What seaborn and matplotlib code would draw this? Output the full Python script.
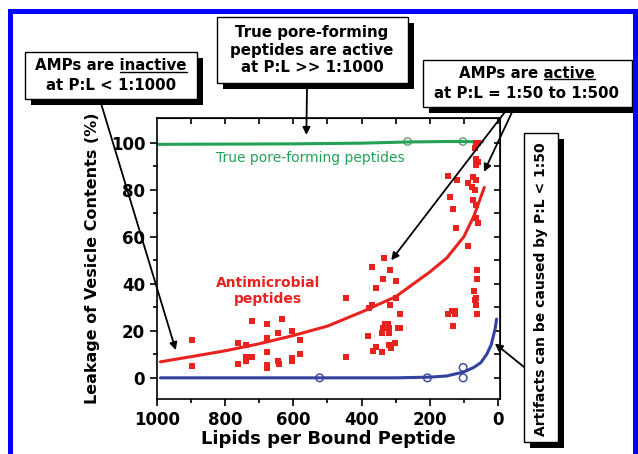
import matplotlib
matplotlib.use("Agg")
import matplotlib.pyplot as plt
from matplotlib.patches import Rectangle
from matplotlib.lines import Line2D
import seaborn as sns
import pandas as pd

W, H = 638, 454

# antimicrobial peptides: lipids per bound peptide vs leakage (%)
amp_lipids = [896, 896, 762, 762, 739, 739, 739, 720, 720, 676, 677, 677, 676, 676,
              644, 634, 641, 645, 604, 582, 582, 604, 604,
              445, 445, 369, 334, 318, 337, 300, 357, 300, 369, 378, 318, 288, 332, 323,
              337, 320, 293, 286, 339, 320, 380, 303, 320, 315, 357, 366, 339,
              146, 121, 141, 131, 124, 136, 126, 146, 126, 131, 87,
              58, 68, 63, 63, 58, 63, 87, 72, 63, 77, 68, 72, 63, 63, 58,
              61, 61, 70, 63, 68, 63, 60]
amp_leak = [16, 5, 15, 6, 14, 9, 7, 24, 9, 23, 17, 11, 5.5, 4,
            19, 25, 6, 7, 20, 16, 10, 8.5, 7,
            34, 9, 47, 51, 46, 42, 41, 38, 34, 31, 29.5, 31, 27, 23, 23,
            21, 21, 21, 21, 19, 19, 18, 15, 14, 12.5, 13, 11.5, 11,
            86, 84, 77, 72, 63.6, 28.5, 28.5, 27, 27, 22, 56,
            100, 97.6, 100, 93, 92, 90.5, 83, 85.5, 84, 81, 80, 75.6, 73.5, 68, 66,
            46, 42, 37, 34, 33, 31, 27]
amp_fit_lipids = [990, 900, 800, 700, 600, 500, 400, 300, 200, 150, 100, 70, 40]
amp_fit_leak = [6.8, 9, 11.5, 14.5, 18, 22, 28, 34.5, 45, 51, 60, 69, 81]

# true pore-forming peptides
pore_lipids = [265, 103]
pore_leak = [100.5, 100.5]
pore_fit_lipids = [1000, 800, 600, 400, 265, 150, 45]
pore_fit_leak = [99.3, 99.4, 99.5, 99.8, 100.3, 100.5, 100.4]

# artifacts at very high peptide
art_lipids = [523, 207, 102, 102]
art_leak = [0, 0, 4.4, 0]
art_fit_lipids = [990, 600, 300, 200, 150, 100, 70, 50, 33, 20, 14, 8, 4]
art_fit_leak = [0, 0, 0, 0.3, 0.8, 2.5, 4.5, 6.5, 10, 14, 17.5, 21, 25]

RED = '#e8231f'
GREEN = '#22a255'
BLUE = '#34429e'

sns.set_style("ticks")
plt.rcParams['font.family'] = ['DejaVu Sans']
plt.rcParams.update({'text.color': 'black', 'axes.labelcolor': 'black',
                     'xtick.color': 'black', 'ytick.color': 'black',
                     'axes.edgecolor': 'black'})

fig = plt.figure(figsize=(W / 100, H / 100), dpi=100)


def fx(x):
    return x / W


def fy(y):
    return 1 - y / H


ax = fig.add_axes([fx(157), fy(399), fx(500) - fx(157), fy(118) - fy(399)])

amp = pd.DataFrame({'lipids': amp_lipids, 'leak': amp_leak})
amp_fit = pd.DataFrame({'lipids': amp_fit_lipids, 'leak': amp_fit_leak})
pore = pd.DataFrame({'lipids': pore_lipids, 'leak': pore_leak})
pore_fit = pd.DataFrame({'lipids': pore_fit_lipids, 'leak': pore_fit_leak})
art = pd.DataFrame({'lipids': art_lipids, 'leak': art_leak})
art_fit = pd.DataFrame({'lipids': art_fit_lipids, 'leak': art_fit_leak})

sns.lineplot(data=pore_fit, x='lipids', y='leak', color=GREEN, lw=2.2, sort=False,
             estimator=None, ax=ax)
sns.lineplot(data=art_fit, x='lipids', y='leak', color=BLUE, lw=2.2, sort=False,
             estimator=None, ax=ax)
sns.scatterplot(data=pore, x='lipids', y='leak', marker='o', s=28, facecolor='none',
                edgecolor='#6a9a6a', linewidth=1, ax=ax)
sns.scatterplot(data=art, x='lipids', y='leak', marker='o', s=30, facecolor='none',
                edgecolor=BLUE, linewidth=1, ax=ax)
sns.scatterplot(data=amp, x='lipids', y='leak', marker='s', s=22, color=RED,
                linewidth=0, ax=ax, zorder=3)
sns.lineplot(data=amp_fit, x='lipids', y='leak', color=RED, lw=2.2, sort=False,
             estimator=None, ax=ax, zorder=4)

ax.set_xlim(1000, -6)
ax.set_ylim(-9, 110.5)
ax.set_xticks([1000, 800, 600, 400, 200, 0])
ax.set_xticks([900, 700, 500, 300, 100], minor=True)
ax.set_yticks([0, 20, 40, 60, 80, 100])
ax.set_yticks([10, 30, 50, 70, 90], minor=True)
ax.tick_params(which='major', direction='out', length=5, width=1.2, labelsize=12)
ax.tick_params(which='minor', direction='out', length=3, width=1.2)
for lab in ax.get_xticklabels() + ax.get_yticklabels():
    lab.set_fontweight('bold')
for sp in ax.spines.values():
    sp.set_linewidth(1.2)

top = ax.secondary_xaxis('top')
top.set_xticks(range(900, -1, -100))
top.tick_params(direction='in', length=4, width=1.2, labeltop=False)
right = ax.secondary_yaxis('right')
right.set_yticks(range(0, 101, 10))
right.tick_params(direction='in', length=4, width=1.2, labelright=False)

ax.set_xlabel('Lipids per Bound Peptide', fontsize=13, fontweight='bold', labelpad=1)
ax.set_ylabel('Leakage of Vesicle Contents (%)', fontsize=11.5, fontweight='bold',
              labelpad=8)

ax.text(551, 93.5, 'True pore-forming peptides', color=GREEN, fontsize=10,
        ha='center', va='center')
ax.text(674, 37, 'Antimicrobial\npeptides', color=RED, fontsize=10,
        fontweight='bold', ha='center', va='center', linespacing=1.2)

# arrows from the boxes into the plot
arrows = [
    ((100, 100), (945, 11.8)),
    ((307, 88), (562, 103.3)),
    ((508, 108), (313, 50)),
    ((514, 108), (41, 87.6)),
    ((524, 367), (9, 14.6)),
]
for (sx, sy), tip in arrows:
    ax.annotate('', xy=tip, xycoords='data', xytext=(fx(sx), fy(sy)),
                textcoords='figure fraction', annotation_clip=False,
                arrowprops=dict(arrowstyle='-|>', color='black', lw=1.3,
                                mutation_scale=11, shrinkA=0, shrinkB=0))


def shadow_box(x0, y0, x1, y1, off=6):
    fig.add_artist(Rectangle((fx(x0 + off), fy(y1 + off)), fx(x1 - x0), fy(y0) - fy(y1),
                             transform=fig.transFigure, facecolor='black',
                             edgecolor='none', zorder=5))
    fig.add_artist(Rectangle((fx(x0), fy(y1)), fx(x1 - x0), fy(y0) - fy(y1),
                             transform=fig.transFigure, facecolor='white',
                             edgecolor='black', lw=1, zorder=6))


def box_text(x, y, s, size=10.8, **kw):
    return fig.text(fx(x), fy(y), s, ha='center', va='center', fontsize=size,
                    fontweight='bold', zorder=7, **kw)


shadow_box(25, 52, 197, 99)
t1 = box_text(111, 66, 'AMPs are inactive')
box_text(111, 86, 'at P:L < 1:1000')

shadow_box(217, 17, 408, 83)
box_text(312, 32, 'True pore-forming')
box_text(312, 50, 'peptides are active')
box_text(312, 68, 'at P:L >> 1:1000')

shadow_box(423, 60, 632, 107)
t3 = box_text(527, 74, 'AMPs are active')
box_text(527, 93, 'at P:L = 1:50 to 1:500')

shadow_box(524, 133, 558, 442, off=6)
box_text(541, 289, 'Artifacts can be caused by P:L < 1:50', size=10, rotation=90)

# underline the key word
fig.canvas.draw()
rend = fig.canvas.get_renderer()
for t, word in [(t1, 'inactive'), (t3, 'active')]:
    bb = t.get_window_extent(rend)
    tmp = fig.text(0, 0, word, fontsize=t.get_fontsize(), fontweight='bold')
    w = tmp.get_window_extent(rend).width
    tmp.remove()
    yy = (bb.y0 + 2) / H
    fig.add_artist(Line2D([(bb.x1 - w) / W, bb.x1 / W], [yy, yy], color='black',
                          lw=1, transform=fig.transFigure, zorder=8))

# blue frame around the figure
fig.add_artist(Rectangle((fx(9.5), fy(470)), fx(635 - 9.5), fy(10.5) - fy(470),
                         transform=fig.transFigure, facecolor='none',
                         edgecolor='#0000ff', lw=3.6, zorder=10, clip_on=False))

fig.savefig('out.png', dpi=100)
